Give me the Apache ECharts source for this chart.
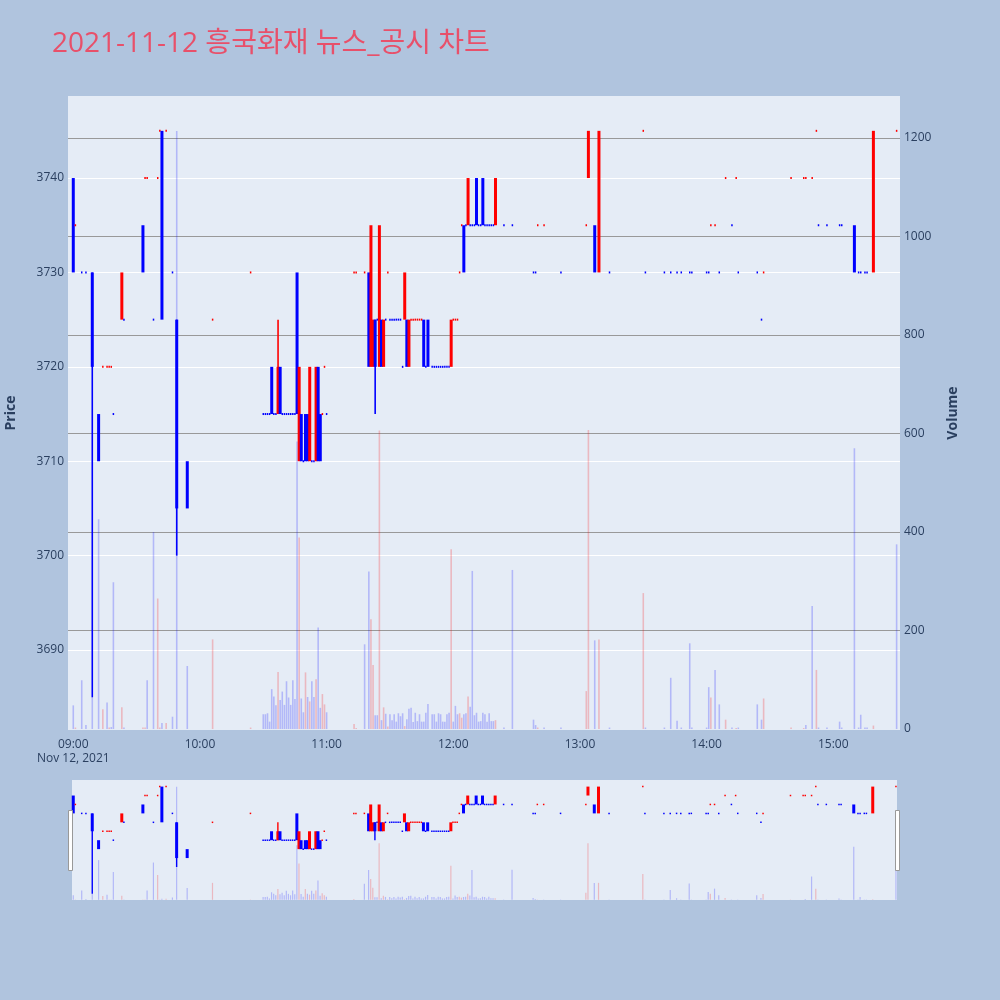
<!DOCTYPE html>
<html><head><meta charset="utf-8">
<script src="https://cdn.jsdelivr.net/npm/echarts@6/dist/echarts.min.js"></script>
<style>html,body{margin:0;padding:0;background:#B0C4DE}#c{width:1000px;height:1000px}</style>
</head><body><div id="c"></div>
<script>
const times = [
 '09:00','09:01','09:04','09:06','09:09','09:12','09:14','09:16','09:17','09:18',
 '09:19','09:23','09:24','09:33','09:34','09:35','09:38','09:40','09:41','09:42',
 '09:44','09:47','09:49','09:54','10:06','10:24','10:30','10:31','10:32','10:33',
 '10:34','10:35','10:36','10:37','10:38','10:39','10:40','10:41','10:42','10:43',
 '10:44','10:45','10:46','10:47','10:48','10:49','10:50','10:51','10:52','10:53',
 '10:54','10:55','10:56','10:57','10:58','10:59','11:00','11:13','11:14','11:18',
 '11:20','11:21','11:22','11:23','11:24','11:25','11:26','11:27','11:28','11:29',
 '11:30','11:31','11:32','11:33','11:34','11:35','11:36','11:37','11:38','11:39',
 '11:40','11:41','11:42','11:43','11:44','11:45','11:46','11:47','11:48','11:50',
 '11:51','11:52','11:53','11:54','11:55','11:56','11:57','11:58','11:59','12:00',
 '12:01','12:02','12:03','12:04','12:05','12:06','12:07','12:08','12:09','12:10',
 '12:11','12:12','12:13','12:14','12:15','12:16','12:17','12:18','12:19','12:20',
 '12:24','12:28','12:38','12:39','12:40','12:43','12:51','13:03','13:04','13:07',
 '13:09','13:14','13:30','13:31','13:40','13:43','13:46','13:48','13:52','13:53',
 '14:00','14:01','14:02','14:04','14:06','14:09','14:12','14:14','14:15','14:24',
 '14:26','14:27','14:40','14:46','14:47','14:50','14:52','14:53','14:57','15:03',
 '15:04','15:10','15:12','15:13','15:15','15:16','15:19','15:30'
];
const opens = [
 3740,3735,3730,3730,3730,3715,3720,3720,3720,3720,
 3715,3725,3725,3735,3740,3740,3725,3740,3745,3745,
 3745,3730,3725,3710,3725,3730,3715,3715,3715,3715,
 3720,3715,3715,3715,3720,3715,3715,3715,3715,3715,
 3715,3715,3730,3710,3715,3710,3715,3715,3710,3710,
 3710,3710,3720,3715,3715,3720,3715,3730,3730,3730,
 3730,3720,3720,3725,3725,3720,3725,3720,3725,3730,
 3725,3725,3725,3725,3725,3725,3720,3725,3725,3720,
 3725,3725,3725,3725,3725,3725,3725,3720,3725,3720,
 3720,3720,3720,3720,3720,3720,3720,3720,3720,3725,
 3725,3725,3730,3735,3735,3735,3735,3735,3735,3735,
 3740,3735,3735,3740,3735,3735,3735,3735,3735,3735,
 3735,3735,3730,3730,3735,3735,3730,3735,3740,3735,
 3730,3730,3745,3730,3730,3730,3730,3730,3730,3730,
 3730,3730,3735,3735,3730,3740,3735,3740,3730,3730,
 3725,3730,3740,3740,3740,3740,3745,3735,3735,3735,
 3735,3735,3730,3730,3730,3730,3730,3745
];
const closes = [
 3730,3735,3730,3730,3720,3710,3720,3720,3720,3720,
 3715,3730,3725,3730,3740,3740,3725,3740,3745,3725,
 3745,3730,3705,3705,3725,3730,3715,3715,3715,3715,
 3715,3715,3715,3720,3715,3715,3715,3715,3715,3715,
 3715,3715,3715,3720,3710,3710,3710,3710,3720,3710,
 3710,3720,3710,3710,3715,3720,3715,3730,3730,3730,
 3720,3735,3725,3720,3725,3735,3720,3725,3725,3730,
 3725,3725,3725,3725,3725,3725,3720,3730,3720,3725,
 3725,3725,3725,3725,3725,3725,3720,3720,3720,3720,
 3720,3720,3720,3720,3720,3720,3720,3720,3725,3725,
 3725,3725,3730,3735,3730,3735,3740,3735,3735,3735,
 3735,3735,3735,3735,3735,3735,3735,3735,3735,3740,
 3735,3735,3730,3730,3735,3735,3730,3735,3745,3730,
 3745,3730,3745,3730,3730,3730,3730,3730,3730,3730,
 3730,3730,3735,3735,3730,3740,3735,3740,3730,3730,
 3725,3730,3740,3740,3740,3740,3745,3735,3735,3735,
 3735,3730,3730,3730,3730,3730,3745,3745
];
const lows = [
 3730,3735,3730,3730,3685,3710,3720,3720,3720,3720,
 3715,3725,3725,3730,3740,3740,3725,3740,3745,3725,
 3745,3730,3700,3705,3725,3730,3715,3715,3715,3715,
 3715,3715,3715,3715,3715,3715,3715,3715,3715,3715,
 3715,3715,3715,3710,3710,3710,3710,3710,3710,3710,
 3710,3710,3710,3710,3715,3720,3715,3730,3730,3730,
 3720,3720,3720,3715,3725,3720,3720,3720,3725,3730,
 3725,3725,3725,3725,3725,3725,3720,3725,3720,3720,
 3725,3725,3725,3725,3725,3725,3720,3720,3720,3720,
 3720,3720,3720,3720,3720,3720,3720,3720,3720,3725,
 3725,3725,3730,3735,3730,3735,3735,3735,3735,3735,
 3735,3735,3735,3735,3735,3735,3735,3735,3735,3735,
 3735,3735,3730,3730,3735,3735,3730,3735,3740,3730,
 3730,3730,3745,3730,3730,3730,3730,3730,3730,3730,
 3730,3730,3735,3735,3730,3740,3735,3740,3730,3730,
 3725,3730,3740,3740,3740,3740,3745,3735,3735,3735,
 3735,3730,3730,3730,3730,3730,3730,3745
];
const highs = [
 3740,3735,3730,3730,3730,3715,3720,3720,3720,3720,
 3715,3730,3725,3735,3740,3740,3725,3740,3745,3745,
 3745,3730,3725,3710,3725,3730,3715,3715,3715,3715,
 3720,3715,3715,3725,3720,3715,3715,3715,3715,3715,
 3715,3715,3730,3720,3715,3710,3715,3715,3720,3710,
 3710,3720,3720,3715,3715,3720,3715,3730,3730,3730,
 3730,3735,3725,3725,3725,3735,3725,3725,3725,3730,
 3725,3725,3725,3725,3725,3725,3720,3730,3725,3725,
 3725,3725,3725,3725,3725,3725,3725,3720,3725,3720,
 3720,3720,3720,3720,3720,3720,3720,3720,3725,3725,
 3725,3725,3730,3735,3735,3735,3740,3735,3735,3735,
 3740,3735,3735,3740,3735,3735,3735,3735,3735,3740,
 3735,3735,3730,3730,3735,3735,3730,3735,3745,3735,
 3745,3730,3745,3730,3730,3730,3730,3730,3730,3730,
 3730,3730,3735,3735,3730,3740,3735,3740,3730,3730,
 3725,3730,3740,3740,3740,3740,3745,3735,3735,3735,
 3735,3735,3730,3730,3730,3730,3745,3745
];
const candleDir = [
 'd','u','d','d','d','d','u','u','u','u',
 'd','u','d','d','u','u','d','u','u','d',
 'u','d','d','d','u','u','d','d','d','d',
 'd','d','d','u','d','d','d','d','d','d',
 'd','d','d','u','d','d','d','d','u','d',
 'd','u','d','d','u','u','d','u','u','u',
 'd','u','u','d','d','u','d','u','d','u',
 'd','d','d','d','d','d','d','u','d','u',
 'u','u','u','u','u','u','d','d','d','d',
 'd','d','d','d','d','d','d','d','u','u',
 'u','u','u','u','d','d','u','d','d','d',
 'd','d','d','d','d','d','d','d','d','u',
 'd','d','d','d','u','u','d','u','u','d',
 'u','d','u','d','d','d','d','d','d','d',
 'd','d','u','u','d','u','d','u','d','d',
 'd','u','u','u','u','u','u','d','d','d',
 'd','d','d','d','d','d','u','u'
];
const volumes = [
 48,3,99,8,65,426,40,54,3,4,
 298,44,3,3,3,99,400,265,3,12,
 12,25,1214,128,182,3,30,30,32,15,
 81,66,48,116,59,76,49,97,64,49,
 99,61,584,389,62,34,115,65,56,97,
 65,101,206,43,71,50,34,10,2,172,
 320,223,130,28,28,606,18,44,31,5,
 30,18,30,15,32,26,32,6,20,41,
 43,14,33,16,30,15,15,33,51,30,
 30,15,32,30,15,15,30,33,365,15,
 47,30,32,23,30,32,66,45,321,28,
 33,15,16,33,30,15,32,16,16,18,
 3,323,19,8,3,3,3,77,607,180,
 182,3,276,3,3,104,17,3,174,3,
 3,85,64,120,50,19,3,2,3,50,
 19,62,3,2,8,250,120,3,3,15,
 3,570,3,29,3,3,7,375
];
const volumeDir = [
 'd','u','d','d','d','d','u','d','u','d',
 'd','u','d','u','u','d','d','u','u','d',
 'u','d','d','d','u','u','d','d','d','d',
 'd','d','d','u','d','d','d','d','d','d',
 'd','d','d','u','d','d','u','d','u','d',
 'd','u','d','d','u','u','d','u','u','d',
 'd','u','u','d','d','u','d','u','d','u',
 'd','d','d','d','d','d','d','u','d','d',
 'd','d','d','d','d','d','d','d','d','d',
 'd','d','d','d','d','d','d','d','u','d',
 'd','d','u','u','d','d','u','d','d','d',
 'd','d','d','d','d','d','d','d','d','u',
 'd','d','d','d','u','d','d','u','u','d',
 'u','d','u','d','d','d','d','d','d','d',
 'd','d','u','d','d','u','d','u','d','d',
 'd','u','u','u','d','d','u','d','d','d',
 'd','d','d','d','d','d','u','d'
];
const timeTicks = ['09:00','10:00','11:00','12:00','13:00','14:00','15:00'];
const priceTicks = [3690,3700,3710,3720,3730,3740];
const volumeTicks = [0,200,400,600,800,1000,1200];
const titleText = '2021-11-12 흥국화재 뉴스_공시 차트';
const dateText = 'Nov 12, 2021';

const toMin = t => { const p = t.split(':').map(Number); return (p[0] - 9) * 60 + p[1]; };
const pad2 = n => String(n).padStart(2, '0');
const fromMin = m => pad2(9 + Math.floor(m / 60)) + ':' + pad2(m % 60);
const RED = '#FF0000', BLUE = '#0000FF';
const VRED = 'rgba(255,0,0,0.22)', VBLUE = 'rgba(0,0,255,0.22)';
const FONT = '"Open Sans", "Noto Sans CJK KR", sans-serif';
const TXT = '#2a3f5f';

const candleData = times.map((t, i) =>
  [toMin(t), opens[i], closes[i], lows[i], highs[i], candleDir[i] === 'u' ? 1 : 0]);
const volData = times.map((t, i) => ({ value: [toMin(t), volumes[i]],
  itemStyle: { color: volumeDir[i] === 'u' ? VRED : VBLUE } }));

function makeRender(bodyW, wickW, dojiW, dojiH) {
  return function (params, api) {
    const x = api.value(0);
    const pO = api.coord([x, api.value(1)]), pC = api.coord([x, api.value(2)]);
    const pL = api.coord([x, api.value(3)]), pH = api.coord([x, api.value(4)]);
    const color = api.value(5) === 1 ? RED : BLUE;
    const cx = pO[0];
    let top = Math.min(pO[1], pC[1]), bot = Math.max(pO[1], pC[1]);
    let w = bodyW;
    if (bot - top < dojiH) { const mid = (top + bot) / 2; top = mid - dojiH / 2; bot = mid + dojiH / 2; w = dojiW; }
    const children = [];
    if (pH[1] < top - 0.5 || pL[1] > bot + 0.5) {
      children.push({ type: 'rect', shape: { x: cx - wickW / 2, y: pH[1], width: wickW, height: pL[1] - pH[1] },
                      style: { fill: color } });
    }
    children.push({ type: 'rect', shape: { x: cx - w / 2, y: top, width: w, height: bot - top },
                    style: { fill: color } });
    return { type: 'group', children };
  };
}

const PMIN = 3681.53, PMAX = 3748.69, VMIN = -2, VMAX = 1285.3;

const chart = echarts.init(document.getElementById('c'), null, { renderer: 'canvas' });
chart.setOption({
  animation: false,
  backgroundColor: '#B0C4DE',
  textStyle: { fontFamily: FONT },
  title: { text: titleText, left: 47, top: 25,
           textStyle: { color: '#E8506A', fontSize: 28, fontWeight: 'normal', fontFamily: FONT } },
  grid: [
    { left: 68, top: 96, width: 832, height: 634, show: true, backgroundColor: '#E5ECF6', borderWidth: 0,
      outerBoundsMode: 'none', containLabel: false },
    { left: 72, top: 780, width: 825, height: 120, show: true, backgroundColor: '#E5ECF6', borderWidth: 0,
      outerBoundsMode: 'none', containLabel: false }
  ],
  xAxis: [
    { type: 'value', gridIndex: 0, min: -2.5, max: 391.6,
      axisLine: { show: false }, axisTick: { show: false }, splitLine: { show: false },
      axisLabel: { customValues: timeTicks.map(toMin), color: TXT, fontSize: 12, margin: 8, lineHeight: 14,
        formatter: v => v === 0 ? fromMin(v) + '\n' + dateText : fromMin(v) } },
    { type: 'value', gridIndex: 1, min: -0.6, max: 390.5, show: false }
  ],
  yAxis: [
    { type: 'value', gridIndex: 0, min: PMIN, max: PMAX, position: 'left',
      axisLine: { show: false }, axisTick: { show: false }, splitLine: { show: false },
      axisLabel: { customValues: priceTicks, color: TXT, fontSize: 12, margin: 4, formatter: v => String(v) },
      name: 'Price', nameLocation: 'middle', nameRotate: 90, nameGap: 50,
      nameTextStyle: { color: TXT, fontSize: 14, fontWeight: 'bold' } },
    { type: 'value', gridIndex: 0, min: VMIN, max: VMAX, position: 'right',
      axisLine: { show: false }, axisTick: { show: false }, splitLine: { show: false },
      axisLabel: { customValues: volumeTicks, color: TXT, fontSize: 12, margin: 4, formatter: v => String(v) },
      name: 'Volume', nameLocation: 'middle', nameRotate: 90, nameGap: 46,
      nameTextStyle: { color: TXT, fontSize: 14, fontWeight: 'bold' } },
    { type: 'value', gridIndex: 1, min: PMIN, max: PMAX, show: false },
    { type: 'value', gridIndex: 1, min: VMIN, max: VMAX, show: false }
  ],
  series: [
    { type: 'bar', xAxisIndex: 0, yAxisIndex: 1, data: volData, barWidth: 1.6, z: 2,
      encode: { x: 0, y: 1 },
      markLine: { silent: true, symbol: 'none', z: 1, label: { show: false },
        lineStyle: { color: '#999999', width: 1, type: 'solid' },
        data: volumeTicks.filter(v => v > 0).map(v => ({ yAxis: v })) } },
    { type: 'custom', xAxisIndex: 0, yAxisIndex: 0, data: candleData, z: 3,
      encode: { x: 0, y: [1, 2, 3, 4] }, renderItem: makeRender(3, 1.6, 1.5, 2),
      markLine: { silent: true, symbol: 'none', z: 1, label: { show: false },
        lineStyle: { color: '#ffffff', width: 1, type: 'solid' },
        data: priceTicks.map(v => ({ yAxis: v })) } },
    { type: 'bar', xAxisIndex: 1, yAxisIndex: 3, data: volData, barWidth: 1.2, z: 2, silent: true,
      encode: { x: 0, y: 1 } },
    { type: 'custom', xAxisIndex: 1, yAxisIndex: 2, data: candleData, z: 3, silent: true,
      encode: { x: 0, y: [1, 2, 3, 4] }, renderItem: makeRender(3, 1.4, 1.5, 1.5) }
  ],
  graphic: [
    { type: 'rect', shape: { x: 68.5, y: 810.5, width: 4, height: 60 },
      style: { fill: '#ffffff', stroke: '#999999', lineWidth: 1 }, z: 10 },
    { type: 'rect', shape: { x: 895.5, y: 810.5, width: 4, height: 60 },
      style: { fill: '#ffffff', stroke: '#999999', lineWidth: 1 }, z: 10 }
  ]
});
</script></body></html>
